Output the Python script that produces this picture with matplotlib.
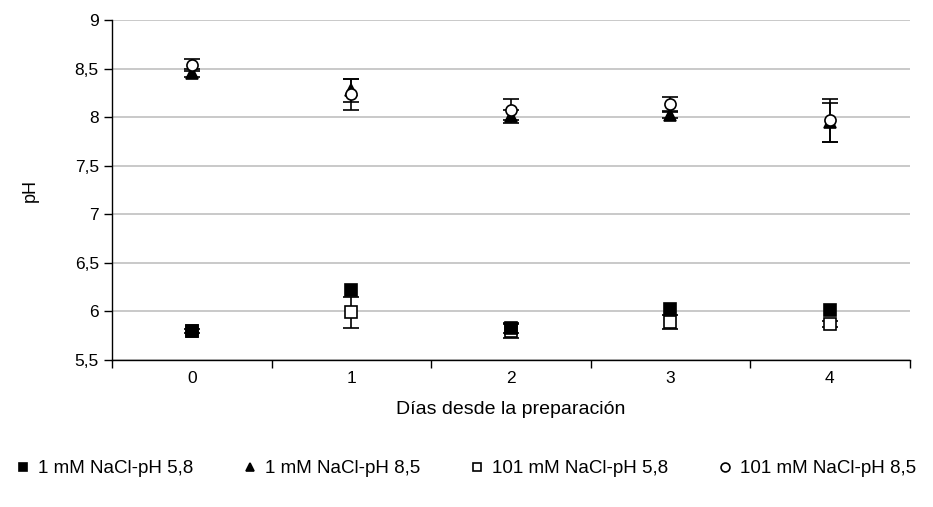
#!/usr/bin/env python3

"""
pH vs days since preparation
"""

import numpy as np
import matplotlib
matplotlib.use("Agg")
import matplotlib.pyplot as plt
from matplotlib.ticker import FuncFormatter, FixedLocator

plt.rcParams["font.family"] = ["Liberation Sans", "DejaVu Sans"]

days = [0, 1, 2, 3, 4]
series_labels = [
    "1 mM NaCl-pH 5,8",
    "1 mM NaCl-pH 8,5",
    "101 mM NaCl-pH 5,8",
    "101 mM NaCl-pH 8,5",
]
ph_1mM_58 = [5.80, 6.22, 5.83, 6.03, 6.01]
ph_1mM_85 = [8.46, 8.28, 8.01, 8.02, 7.95]
ph_101mM_58 = [5.80, 5.99, 5.80, 5.89, 5.87]
ph_101mM_85 = [8.54, 8.24, 8.08, 8.14, 7.97]

err_1mM_58 = [0.02, 0.0, 0.05, 0.0, 0.0]
err_1mM_85 = [0.04, 0.12, 0.07, 0.03, 0.20]
err_101mM_58 = [0.0, 0.16, 0.07, 0.07, 0.03]
err_101mM_85 = [0.06, 0.16, 0.11, 0.07, 0.22]


def plot() -> None:
    fig = plt.figure(figsize=(9.33, 5.07), dpi=100)
    ax = fig.add_axes([0.12, 0.29, 0.855, 0.67])

    ax.yaxis.grid(True, color="#c0c0c0", lw=1.2)
    ax.set_axisbelow(True)

    styles = [
        (ph_1mM_58, err_1mM_58, "s", "black", 6),
        (ph_1mM_85, err_1mM_85, "^", "black", 4),
        (ph_101mM_58, err_101mM_58, "s", "white", 3),
        (ph_101mM_85, err_101mM_85, "o", "white", 5),
    ]
    for (vals, errs, mk, fc, z), lab in zip(styles, series_labels):
        v = np.array(vals)
        e = np.array(errs)
        keep = e > 0
        ax.errorbar(np.array(days)[keep], v[keep], yerr=e[keep], fmt="none",
                    ecolor="black", elinewidth=1.2, capsize=6, capthick=1.2,
                    zorder=z - 0.5)
        ax.plot(days, vals, linestyle="none", marker=mk, markersize=8,
                markerfacecolor=fc, markeredgecolor="black",
                markeredgewidth=1.2, label=lab, zorder=z)

    ax.set_xlim(-0.5, 4.5)
    ax.set_ylim(5.5, 9)
    ax.set_xticks(days)
    ax.xaxis.set_minor_locator(FixedLocator([-0.5, 0.5, 1.5, 2.5, 3.5, 4.5]))
    ax.tick_params(axis="x", which="major", length=0, pad=8, labelsize=12.5)
    ax.tick_params(axis="x", which="minor", length=6, width=1, direction="out")
    ax.set_yticks([5.5, 6, 6.5, 7, 7.5, 8, 8.5, 9])
    ax.yaxis.set_major_formatter(
        FuncFormatter(lambda v, p: f"{v:g}".replace(".", ",")))
    ax.tick_params(axis="y", length=6, width=1, direction="out", labelsize=12.5)

    for s in ("top", "right"):
        ax.spines[s].set_visible(False)
    for s in ("left", "bottom"):
        ax.spines[s].set_linewidth(1.0)

    ax.set_xlabel("Días desde la preparación", fontsize=14, labelpad=11)
    ax.set_ylabel("pH", fontsize=13, labelpad=26)

    handles, labels = ax.get_legend_handles_labels()
    fig.legend(handles, labels,
               loc="lower left", bbox_to_anchor=(-0.01, 0.025, 1.01, 0.08),
               mode="expand", ncol=4, frameon=False, fontsize=13.5,
               handletextpad=0.0, handlelength=1.6, markerscale=0.8)

    fig.savefig("out.png", dpi=100)


if __name__ == "__main__":
    plot()
